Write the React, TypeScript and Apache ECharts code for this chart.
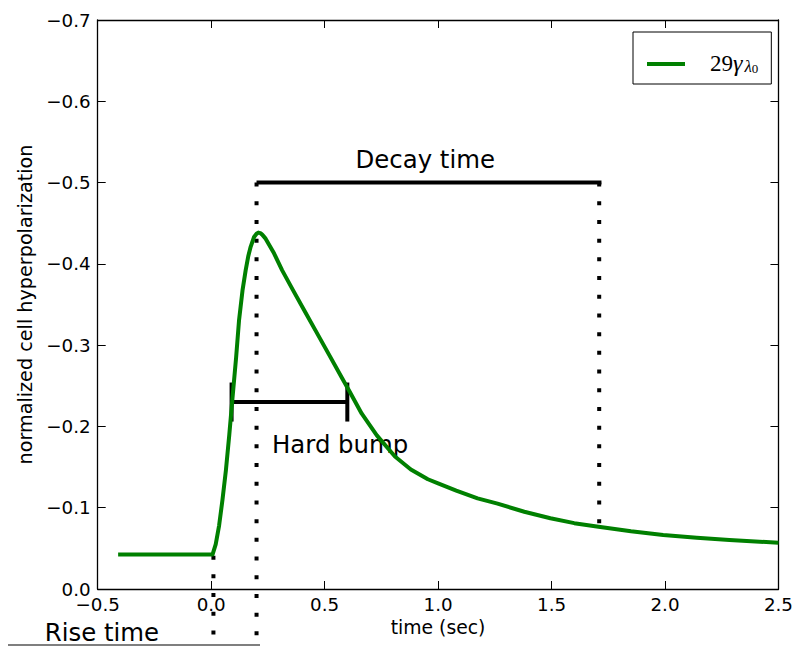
import React, { useEffect, useRef } from "react";
import * as echarts from "echarts";

// ---- data ----
const timeSec = [-0.41, 0.006, 0.02, 0.035, 0.05, 0.065, 0.08, 0.094, 0.11, 0.123, 0.138, 0.152, 0.164, 0.174, 0.189, 0.2, 0.208, 0.217, 0.225, 0.24, 0.277, 0.313, 0.36, 0.41, 0.459, 0.52, 0.576, 0.61, 0.663, 0.73, 0.81, 0.88, 0.955, 1.0, 1.08, 1.174, 1.262, 1.38, 1.495, 1.6, 1.707, 1.85, 1.992, 2.14, 2.284, 2.5];
const hyperpol = [-0.0424, -0.0424, -0.055, -0.078, -0.11, -0.146, -0.19, -0.235, -0.285, -0.331, -0.367, -0.392, -0.41, -0.421, -0.433, -0.437, -0.4385, -0.4378, -0.436, -0.431, -0.413, -0.392, -0.368, -0.343, -0.3185, -0.288, -0.26, -0.243, -0.216, -0.189, -0.163, -0.147, -0.135, -0.13, -0.121, -0.1115, -0.105, -0.095, -0.087, -0.081, -0.0767, -0.071, -0.0664, -0.063, -0.0603, -0.0569];

const seriesName = "29γλ0";

// annotation geometry (data coordinates)
const decayLine = [[0.2, -0.5], [1.72, -0.5]];
const decayStartDots = [[0.2, -0.5], [0.2, 0.08]];
const decayEndDots = [[1.71, -0.5], [1.71, -0.08]];
const riseDots = [[0.01, -0.041], [0.01, 0.08]];
const bumpLine = [[0.09, -0.23], [0.6, -0.23]];
const bumpCapLeft = [[0.09, -0.254], [0.09, -0.206]];
const bumpCapRight = [[0.6, -0.254], [0.6, -0.206]];

const xTicks = { min: -0.5, max: 2.5, interval: 0.5 };
const yTicks = { min: -0.7, max: 0, interval: 0.1 };

const FONT = "DejaVu Sans";
const fmt = (v: number) => {
  const r = Math.round(v * 10) / 10;
  if (Math.abs(r) < 1e-9) return "0.0";
  return (r < 0 ? "\u2212" : "") + Math.abs(r).toFixed(1);
};

export default function App() {
  const ref = useRef<HTMLDivElement>(null);
  useEffect(() => {
    if (!ref.current) return;
    const chart = echarts.init(ref.current, null, { renderer: "svg" });
    const axisLine = { show: true, onZero: false, lineStyle: { color: "#000", width: 1.3 } };
    const tick = { show: true, inside: true, length: 8, lineStyle: { color: "#000", width: 1 } };
    const annot = (data: number[][], dotted: boolean) => ({
      type: "line",
      data,
      clip: false,
      symbol: "none",
      silent: true,
      z: 3,
      lineStyle: dotted
        ? { color: "#000", width: 4, type: [4, 14.7], cap: "butt" }
        : { color: "#000", width: 4, cap: "butt" },
    });
    chart.setOption({
      animation: false,
      backgroundColor: "#fff",
      grid: { left: 97.7, right: 13.3, top: 20, bottom: 58, containLabel: false },
      legend: {
        left: 633,
        top: 32,
        orient: "vertical",
        data: [seriesName],
        icon: "rect",
        itemWidth: 38,
        itemHeight: 4,
        borderColor: "#000",
        borderWidth: 1,
        borderRadius: 0,
        padding: [9, 12, 9, 14],
        formatter: () => "{n|29}{g|γ}{s|λ}{z|0}",
        textStyle: {
          color: "#000",
          rich: {
            n: { fontFamily: "Liberation Serif", fontSize: 23, lineHeight: 22, padding: [10, 0, 0, 20], verticalAlign: "bottom", color: "#000" },
            g: { fontFamily: "Liberation Serif", fontStyle: "italic", fontSize: 24, lineHeight: 22, padding: [10, 2, 0, 0], verticalAlign: "bottom", color: "#000" },
            s: { fontFamily: "Liberation Serif", fontStyle: "italic", fontSize: 17, lineHeight: 14, verticalAlign: "bottom", color: "#000" },
            z: { fontFamily: "Liberation Serif", fontSize: 13, lineHeight: 10, padding: [0, 1, 0, 0], verticalAlign: "bottom", color: "#000" },
          },
        },
      },
      xAxis: [
        {
          type: "value",
          position: "bottom",
          min: xTicks.min,
          max: xTicks.max,
          interval: xTicks.interval,
          name: "time (sec)",
          nameLocation: "middle",
          nameGap: 25,
          nameTextStyle: { fontFamily: FONT, fontSize: 18.8, color: "#000" },
          axisLine,
          axisTick: tick,
          splitLine: { show: false },
          axisLabel: { fontFamily: FONT, fontSize: 18.3, lineHeight: 15, color: "#000", margin: 8, formatter: fmt },
        },
        {
          type: "value",
          position: "top",
          min: xTicks.min,
          max: xTicks.max,
          interval: xTicks.interval,
          axisLine,
          axisTick: tick,
          splitLine: { show: false },
          axisLabel: { show: false },
        },
      ],
      yAxis: [
        {
          type: "value",
          position: "left",
          inverse: true,
          min: yTicks.min,
          max: yTicks.max,
          interval: yTicks.interval,
          name: "normalized cell hyperpolarization",
          nameLocation: "middle",
          nameGap: 57,
          nameTextStyle: { fontFamily: FONT, fontSize: 19.2, color: "#000" },
          axisLine,
          axisTick: tick,
          splitLine: { show: false },
          axisLabel: { fontFamily: FONT, fontSize: 18.3, lineHeight: 15, color: "#000", margin: 7, formatter: fmt },
        },
        {
          type: "value",
          position: "right",
          inverse: true,
          min: yTicks.min,
          max: yTicks.max,
          interval: yTicks.interval,
          axisLine,
          axisTick: tick,
          splitLine: { show: false },
          axisLabel: { show: false },
        },
      ],
      series: [
        {
          name: seriesName,
          type: "line",
          data: timeSec.map((t, i) => [t, hyperpol[i]]),
          symbol: "none",
          smooth: false,
          z: 4,
          itemStyle: { color: "#008000" },
          lineStyle: { color: "#008000", width: 4, join: "round" },
        },
        annot(decayLine, false),
        annot(decayStartDots, true),
        annot(decayEndDots, true),
        annot(riseDots, true),
        annot(bumpLine, false),
        annot(bumpCapLeft, false),
        annot(bumpCapRight, false),
      ],
      graphic: [
        { type: "text", left: 355.5, top: 147.5, style: { text: "Decay time", fontFamily: FONT, fontSize: 24.4, fill: "#000" } },
        { type: "text", left: 272, top: 432, style: { text: "Hard bump", fontFamily: FONT, fontSize: 24.4, fill: "#000" } },
        { type: "text", left: 44.8, top: 620.5, style: { text: "Rise time", fontFamily: FONT, fontSize: 24.4, fill: "#000" } },
        { type: "line", shape: { x1: 8, y1: 645, x2: 260, y2: 645 }, style: { stroke: "#555", lineWidth: 1.5 } },
      ],
    });
    return () => chart.dispose();
  }, []);
  return <div ref={ref} style={{ width: 796, height: 647, position: "absolute", left: 0, top: 0 }} />;
}
